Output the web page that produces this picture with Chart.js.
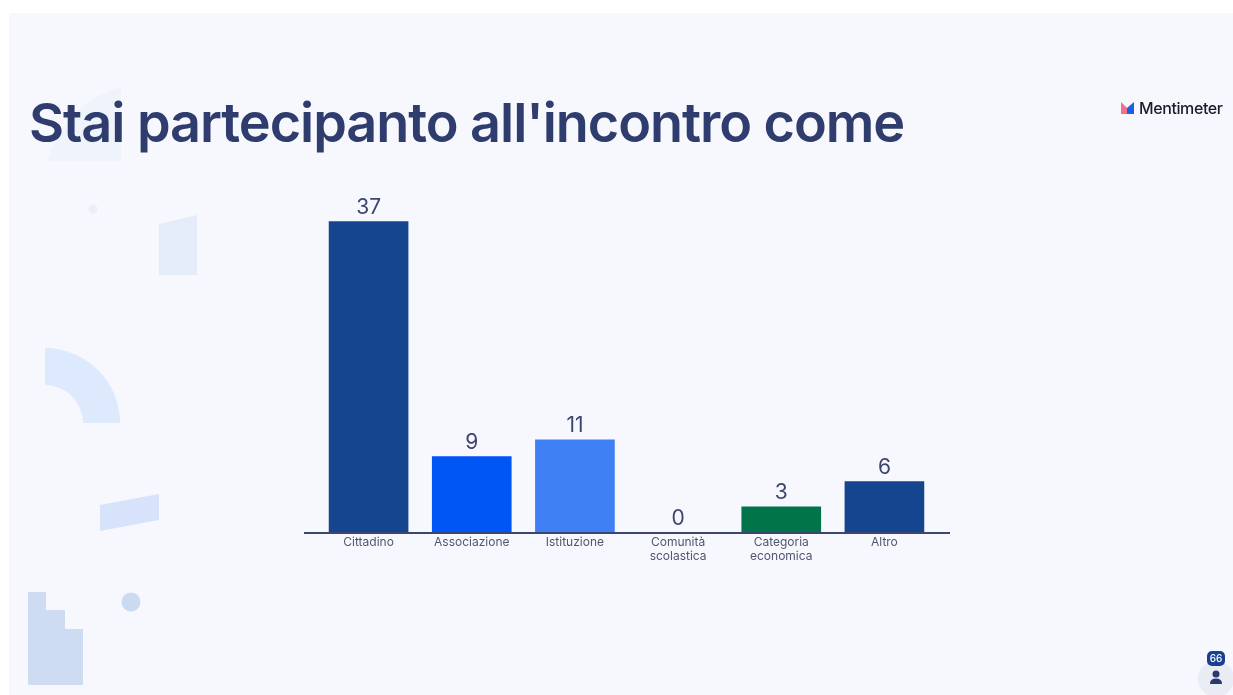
<!DOCTYPE html>
<html lang="it">
<head>
<meta charset="utf-8">
<title>Stai partecipanto all'incontro come</title>
<script src="https://cdn.jsdelivr.net/npm/chart.js@4"></script>
<style>
  html, body { margin: 0; padding: 0; background: #fff; overflow: hidden; }
  #slide { position: relative; width: 1233px; height: 695px; overflow: hidden; }
  #panel { position: absolute; left: 9px; top: 13px; right: 0; bottom: 0; background: #f7f8fe; }
  #deco, #chart { position: absolute; left: 0; top: 0; }
  #title { position: absolute; left: 29px; top: 90px; margin: 0; font: 600 54px Inter, sans-serif; letter-spacing: -1.06px; color: #2f3c6e; white-space: nowrap; }
  #brand { position: absolute; left: 1139px; top: 98px; font: 500 16px Inter, sans-serif; letter-spacing: -0.4px; color: #1b1c2b; }
  #count { position: absolute; left: 1207px; top: 651px; width: 18px; height: 15px; border-radius: 5px; background: #19418f; color: #fff; font: 500 10px/15px Inter, sans-serif; text-align: center; }
</style>
</head>
<body>
<div id="slide">
  <div id="panel"></div>
  <svg id="deco" width="1233" height="695">
    <path d="M47 161 Q70 100 121 87 L121 161 Z" fill="#eff4fc"/>
    <circle cx="93" cy="209" r="4.5" fill="#e9effa"/>
    <path d="M159 224 L197 215 L197 275 L159 275 Z" fill="#e5ecf9"/>
    <path d="M45 348 A75 75 0 0 1 120 423 L83 423 A38 38 0 0 0 45 385 Z" fill="#dde9fd"/>
    <path d="M100 505 L159 494 L159 520 L100 531 Z" fill="#d6e3fb"/>
    <circle cx="131" cy="602" r="9.5" fill="#cbdaf1"/>
    <path d="M28 592 L46 592 L46 610 L65 610 L65 629 L83 629 L83 685 L28 685 Z" fill="#cddcf3"/>
    <!-- logo mark -->
    <path d="M1121 102 L1127 108 L1127 114 L1121 114 Z" fill="#f2708f"/>
    <path d="M1127 108 L1134 102 L1134 114 L1127 114 Z" fill="#1c5fe8"/>
    <!-- participants -->
    <circle cx="1216" cy="679" r="18" fill="#e9ebf5"/>
    <circle cx="1216" cy="674" r="3.5" fill="#2a3a6b"/>
    <path d="M1210 684 Q1210 678.500 1216 678.500 Q1222 678.500 1222 684 Z" fill="#2a3a6b"/>
  </svg>
  <canvas id="chart" width="1233" height="695"></canvas>
  <h1 id="title">Stai partecipanto all'incontro come</h1>
  <div id="brand">Mentimeter</div>
  <div id="count">66</div>
</div>

<script>
const categories = ["Cittadino", "Associazione", "Istituzione", ["Comunità", "scolastica"], ["Categoria", "economica"], "Altro"];
const votes = [37, 9, 11, 0, 3, 6];
const barColors = ["#16458f", "#0055f5", "#4080f5", "transparent", "#02744a", "#16458f"];

// baseline sticks out past the categories, and the vote counts sit on the bars
const slidePlugin = {
  id: "slidePlugin",
  afterDatasetsDraw(chart) {
    const ctx = chart.ctx;
    const area = chart.chartArea;
    ctx.save();
    ctx.strokeStyle = "#3d4670";
    ctx.lineWidth = 2;
    ctx.beginPath();
    ctx.moveTo(area.left - 13, area.bottom + 1);
    ctx.lineTo(area.right + 14, area.bottom + 1);
    ctx.stroke();

    ctx.fillStyle = "#3d4670";
    ctx.font = "400 21px Inter, sans-serif";
    ctx.textAlign = "center";
    ctx.textBaseline = "alphabetic";
    chart.getDatasetMeta(0).data.forEach((bar, i) => {
      ctx.fillText(votes[i], bar.x, bar.y - 7.5);
    });
    ctx.restore();
  }
};

new Chart(document.getElementById("chart"), {
  type: "bar",
  data: {
    labels: categories,
    datasets: [{ data: votes, backgroundColor: barColors, barThickness: 79 }]
  },
  options: {
    responsive: false,
    animation: false,
    layout: { padding: { left: 317, right: 297, top: 196.500, bottom: 0 } },
    plugins: { legend: { display: false }, tooltip: { enabled: false } },
    scales: {
      x: {
        grid: { display: false },
        border: { display: false },
        afterFit: (scale) => { scale.height = 163; },
        ticks: {
          color: "#50566f",
          padding: -5,
          maxRotation: 0,
          autoSkip: false,
          font: { family: "Inter, sans-serif", size: 12, lineHeight: 1.17 }
        }
      },
      y: { display: false, min: 0, max: 40 }
    }
  },
  plugins: [slidePlugin]
});
</script>
</body>
</html>
